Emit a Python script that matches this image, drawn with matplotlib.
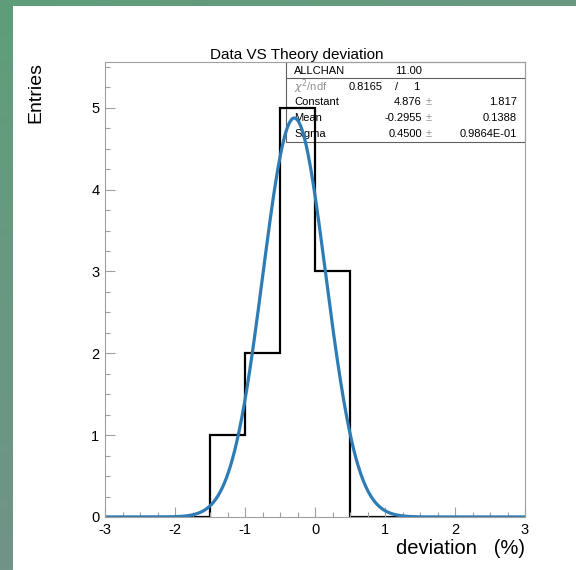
import numpy as np
import matplotlib
matplotlib.use("Agg")
import matplotlib.pyplot as plt

plt.rcParams['font.family'] = ['Liberation Sans', 'DejaVu Sans']
plt.rcParams['mathtext.fontset'] = 'dejavusans'

# histogram data (12 bins of 0.5 from -3 to 3)
bin_edges = [-3.0, -2.5, -2.0, -1.5, -1.0, -0.5, 0.0, 0.5, 1.0, 1.5, 2.0, 2.5, 3.0]
counts = [0, 0, 0, 1, 2, 5, 3, 0, 0, 0, 0, 0]

# gaussian fit result
fit_constant = 4.876
fit_mean = -0.2955
fit_sigma = 0.4500
fit_errors = ["1.817", "0.1388", "0.9864E-01"]
chi2 = "0.8165"
ndf = "1"
entries = "11.00"

W, H = 576, 570
fig = plt.figure(figsize=(W/100, H/100), dpi=100)
fig.patch.set_facecolor('white')

# green frame bands (top + left)
def band(x0, y0, w, h, c0, c1, vertical):
    bx = fig.add_axes([x0/W, 1-(y0+h)/H, w/W, h/H])
    t = np.linspace(0, 1, 64)
    cols = np.array(c0)[None, :]*(1-t[:, None]) + np.array(c1)[None, :]*t[:, None]
    img = cols[:, None, :] if vertical else cols[None, :, :]
    bx.imshow(img/255., aspect='auto', interpolation='bilinear')
    bx.axis('off')

band(0, 0, W, 6, (95, 158, 122), (106, 152, 128), False)
band(0, 0, 13, H, (95, 158, 122), (112, 148, 136), True)

# stats box sits behind the plot lines
bx0, by0, bx1, by1 = 286, 62, 525, 142
box = plt.Rectangle((bx0/W, 1-by1/H), (bx1-bx0)/W, (by1-by0)/H, transform=fig.transFigure,
                    facecolor='none', edgecolor='#606060', linewidth=0.8, zorder=1)
fig.patches.append(box)
fig.add_artist(plt.Line2D([bx0/W, bx1/W], [1-78/H, 1-78/H], color='#606060', linewidth=0.8, zorder=1))

fs = 8
def t(x, y, s, ha='left', color='black'):
    fig.text(x/W, 1-y/H, s, ha=ha, va='center', fontsize=fs, color=color, zorder=1)

t(294, 71, 'ALLCHAN')
t(422, 71, entries, ha='right')
t(294, 87, r'$\chi^2$/ndf', color='#909090')
t(383, 87, chi2, ha='right')
t(397, 87, '/', ha='center')
t(419, 87, ndf, ha='right')
rows = [('Constant', '%.3f' % fit_constant), ('Mean', '%.4f' % fit_mean), ('Sigma', '%.4f' % fit_sigma)]
for i, (name, val) in enumerate(rows):
    y = 102 + 16*i
    t(294, y, name)
    t(422, y, val, ha='right')
    t(429, y, '±', ha='center', color='#909090')
    t(517, y, fit_errors[i], ha='right')

ax = fig.add_axes([105/W, 1-517/H, 420/W, 455/H], zorder=3)
ax.patch.set_alpha(0)
ax.set_xlim(-3, 3)
ax.set_ylim(0, 5.56)

ax.stairs(counts, bin_edges, color='black', linewidth=1.6, baseline=0)
xs = np.linspace(-3, 3, 600)
ys = fit_constant*np.exp(-0.5*((xs - fit_mean)/fit_sigma)**2)
ax.plot(xs, ys, color='#2e7cb6', linewidth=2.3)

for s in ax.spines.values():
    s.set_color('#a0a0a0')
    s.set_linewidth(0.8)
ax.set_xticks([-3, -2, -1, 0, 1, 2, 3])
ax.set_xticklabels(['-3', '-2', '-1', '0', '1', '2', '3'])
ax.set_yticks([0, 1, 2, 3, 4, 5])
ax.set_xticks(np.arange(-3, 3.01, 0.25), minor=True)
ax.set_yticks(np.arange(0, 5.56, 0.25), minor=True)
ax.tick_params(which='both', direction='in', color='#a0a0a0', top=False, right=False,
               labelsize=10.5, width=0.8)
ax.tick_params(which='major', length=7, pad=4)
ax.tick_params(which='minor', length=3.5)

fig.text(297/W, 1-55/H, 'Data VS Theory deviation', ha='center', va='center', fontsize=11)
fig.text(525/W, 1-548/H, 'deviation   (%)', ha='right', va='center', fontsize=14.5)
fig.text(36/W, 1-62/H, 'Entries', ha='center', va='top', rotation=90, fontsize=14)

fig.savefig('out.png', dpi=100)
